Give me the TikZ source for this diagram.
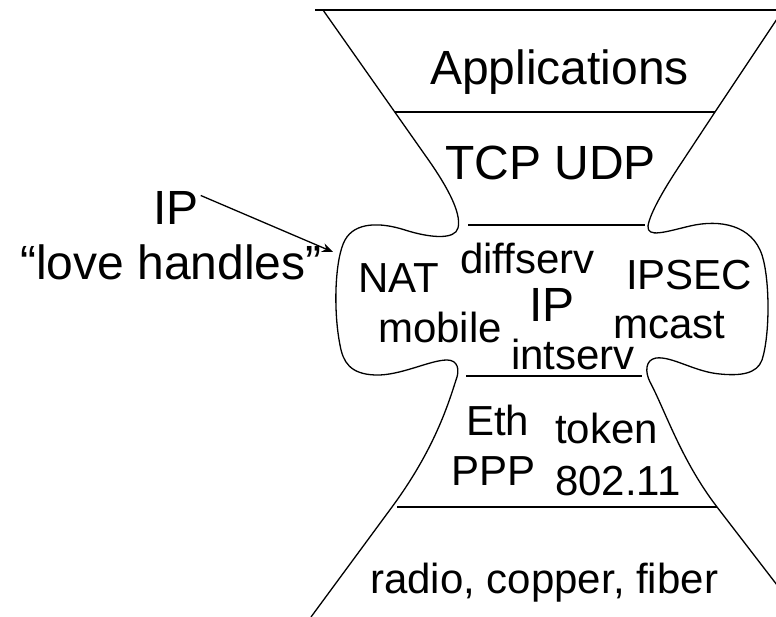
\documentclass[tikz,border=0pt]{standalone}
\usepackage{fontspec}
\setmainfont{Liberation Sans}
\usetikzlibrary{arrows.meta}
\begin{document}
\begin{tikzpicture}[x=1pt,y=-1pt,
  big/.style={inner sep=0pt,anchor=base west,font=\fontsize{48}{56}\selectfont},
  mid/.style={inner sep=0pt,anchor=base west,font=\fontsize{42}{50}\selectfont},
  outline/.style={line width=1.3pt},
  sep/.style={line width=1.3pt}]
\useasboundingbox (0,0) rectangle (776,617);
% outlines
\draw[outline] (315,10) -- (776,10);
\draw[outline] (323,10) -- (425,155)
  .. controls (445,183) and (462,212) .. (458,228)
  .. controls (455,240) and (430,238) .. (405,230)
  .. controls (380,222) and (355,222) .. (345,240)
  .. controls (335,258) and (333,310) .. (340,345)
  .. controls (343,362) and (350,374) .. (375,375)
  .. controls (400,376) and (430,360) .. (447,360)
  .. controls (458,360) and (460,370) .. (456,380)
  .. controls (448,405) and (434,450) .. (392,507)
  -- (311,617);
\draw[outline] (777,19) -- (715,112) -- (680,165)
  .. controls (668,183) and (650,212) .. (648,226)
  .. controls (647,238) and (665,232) .. (690,226)
  .. controls (720,219) and (752,225) .. (762,255)
  .. controls (770,280) and (770,335) .. (762,360)
  .. controls (757,374) and (740,376) .. (720,374)
  .. controls (695,372) and (672,356) .. (656,358)
  .. controls (645,360) and (645,372) .. (650,382)
  .. controls (665,410) and (681,460) .. (717,507)
  -- (777,585);
% layer separators
\draw[sep] (395,112) -- (715,112);
\draw[sep] (468,225) -- (645,225);
\draw[sep] (466,376) -- (642,376);
\draw[sep] (397,507) -- (717,507);
% texts
\node[big] (app) at (430,85) {Applications};
\node[big] (tcp) at (445,180) {TCP\;UDP};
\node[big] (iplbl) at (153,225) {IP};
\node[big] (love) at (20,280) {“love handles”};
\node[mid] (nat) at (358,293) {NAT};
\node[mid] (diff) at (460,274) {diffserv};
\node[big,anchor=base] (ipc) at (552,322) {IP};
\node[mid] (ipsec) at (626,290) {IPSEC};
\node[mid] (mob) at (378,342) {mobile};
\node[mid] (mcast) at (613,338) {mcast};
\node[mid] (ints) at (511,370) {intserv};
\node[mid] (eth) at (466,435) {Eth};
\node[mid] (tok) at (555,443) {token};
\node[mid] (ppp) at (451,485) {PPP};
\node[mid] (w80) at (555,495) {802.11};
\node[mid] (phy) at (370,593) {radio, copper, fiber};
% arrow
\coordinate (handle) at (333,252);
\draw[line width=1.3pt,-{Stealth[length=11pt,width=9pt]}] (iplbl.east) ++(2,-13) -- (handle);
\end{tikzpicture}
\end{document}
